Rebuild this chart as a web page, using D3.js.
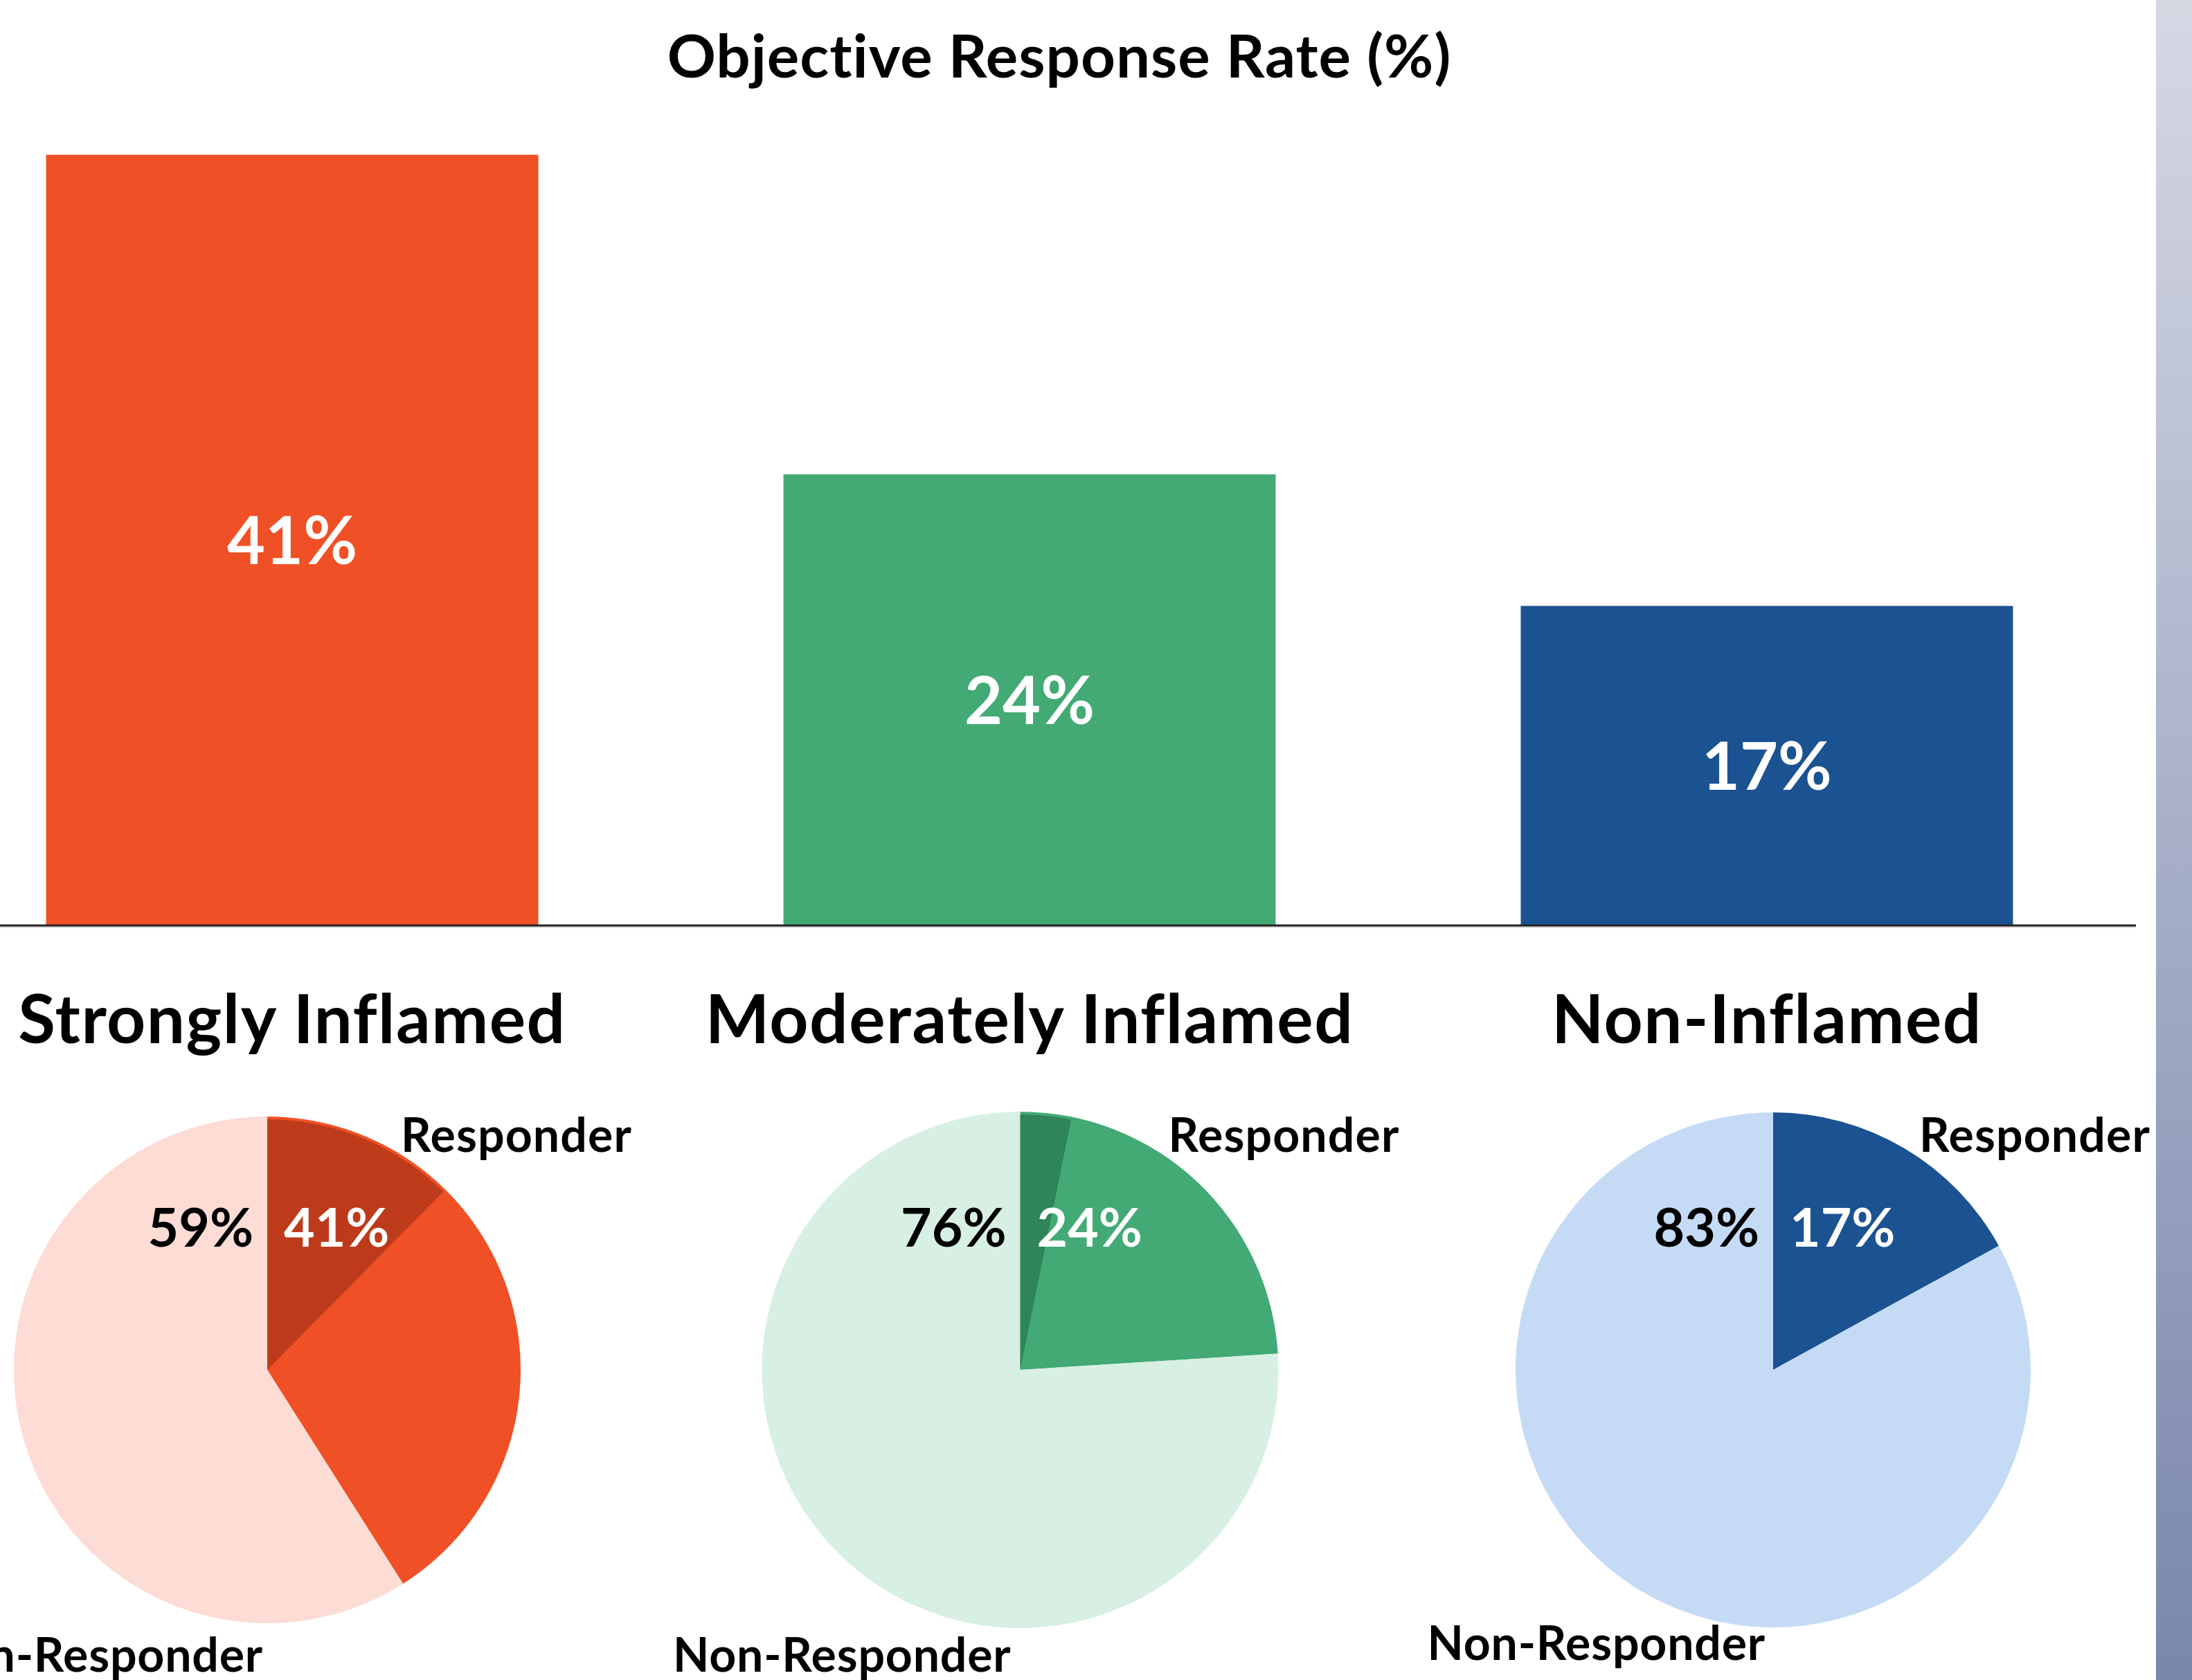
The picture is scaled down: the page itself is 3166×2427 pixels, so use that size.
<!DOCTYPE html>
<html><head><meta charset="utf-8">
<script src="https://cdn.jsdelivr.net/npm/d3@7"></script>
<style>
html,body{margin:0;padding:0;background:#fff;}
svg{display:block;}
text{font-family:Lato,"Open Sans",sans-serif;font-weight:700;}
</style>
</head><body>
<svg id="chart" width="3166" height="2427"></svg>
<script>
// ---------- data ----------
const categories = ["Strongly Inflamed", "Moderately Inflamed", "Non-Inflamed"];
const responseRate = [41, 24, 17];          // % responders (bars + pies)
const nonResponseRate = [59, 76, 83];       // % non-responders
const deepResponseRate = [12.4, 3.2, 0];    // darker wedge inside the responder slice
const sliceNames = ["Responder", "Non-Responder"];
const chartTitle = "Objective Response Rate (%)";
const barColors = ["#F05025", "#43AA75", "#1B5292"];
const lightColors = ["#FCDCD4", "#D8EFE3", "#C5DBF5"];
const darkColors = ["#BD3B1A", "#2F845A", "#153F73"];

// ---------- layout ----------
const W = 3166, H = 2427;
const baseY = 1337;
const pieCY = 1979;
const pieRadius = [366, 373, 372];
const respLabelDx = [193, 214, 211];
const nonLabelDx = [-6, -13, -11];
const nonLabelDy = [436, 436, 419];

const svg = d3.select("#chart");

// background gradient strip on the right
const defs = svg.append("defs");
const grad = defs.append("linearGradient").attr("id", "strip")
  .attr("x1", 0).attr("y1", 0).attr("x2", 0).attr("y2", 1);
grad.append("stop").attr("offset", "0%").attr("stop-color", "#D5D8E3");
grad.append("stop").attr("offset", "100%").attr("stop-color", "#7A87AD");
svg.append("rect").attr("x", 3114).attr("y", 0).attr("width", W - 3114).attr("height", H)
  .attr("fill", "url(#strip)");

// scales
const x = d3.scaleBand().domain(categories).range([0, 2974])
  .paddingInner(0.3324).paddingOuter(0.0625);
const y = d3.scaleLinear().domain([0, 45]).range([baseY, 115]);

// title
svg.append("text").attr("x", 1530).attr("y", 112).attr("text-anchor", "middle")
  .attr("font-size", 87).attr("letter-spacing", 1).attr("fill", "#000").text(chartTitle);

// bars
const bars = svg.append("g");
bars.selectAll("rect").data(categories).join("rect")
  .attr("x", d => x(d))
  .attr("y", (d, i) => y(responseRate[i]))
  .attr("width", x.bandwidth())
  .attr("height", (d, i) => y(0) - y(responseRate[i]))
  .attr("fill", (d, i) => barColors[i]);

bars.selectAll("text").data(categories).join("text")
  .attr("x", d => x(d) + x.bandwidth() / 2)
  .attr("y", (d, i) => (y(responseRate[i]) + y(0)) / 2 + 35)
  .attr("text-anchor", "middle").attr("font-size", 95).attr("fill", "#fff")
  .text((d, i) => responseRate[i] + "%");

// baseline
svg.append("line").attr("x1", 0).attr("x2", 3085).attr("y1", baseY + 2.5).attr("y2", baseY + 2.5)
  .attr("stroke", "#d6d6d6").attr("stroke-width", 2);
svg.append("line").attr("x1", 0).attr("x2", 3085).attr("y1", baseY).attr("y2", baseY)
  .attr("stroke", "#222").attr("stroke-width", 3);

// category titles
svg.append("g").selectAll("text").data(categories).join("text")
  .attr("x", d => x(d) + x.bandwidth() / 2)
  .attr("y", 1507)
  .attr("text-anchor", "middle").attr("font-size", 98).attr("letter-spacing", 1.5).attr("fill", "#000")
  .text(d => d);

// pies
const px = d3.scalePoint().domain(categories).range([386, 2561]);
const pie = d3.pie().sort(null).value(d => d).startAngle(0).endAngle(2 * Math.PI);

categories.forEach((cat, i) => {
  const g = svg.append("g").attr("transform", `translate(${px(cat)},${pieCY})`);
  const r = pieRadius[i];
  const arc = d3.arc().innerRadius(0).outerRadius(r);
  const slices = pie([responseRate[i], nonResponseRate[i]]);
  g.selectAll("path.slice").data(slices).join("path").attr("class", "slice")
    .attr("d", arc)
    .attr("fill", (d, j) => j === 0 ? barColors[i] : lightColors[i]);
  if (deepResponseRate[i] > 0) {
    const deepArc = d3.arc().innerRadius(0).outerRadius(r - 4)
      .startAngle(0).endAngle(2 * Math.PI * deepResponseRate[i] / 100);
    g.append("path").attr("d", deepArc()).attr("fill", darkColors[i]);
  }
  // percentage labels
  g.append("text").attr("x", -20).attr("y", -178).attr("text-anchor", "end")
    .attr("font-size", 77).attr("fill", "#000").text(nonResponseRate[i] + "%");
  g.append("text").attr("x", 24).attr("y", -178).attr("text-anchor", "start")
    .attr("font-size", 77).attr("fill", "#fff").text(responseRate[i] + "%");
  // slice names
  g.append("text").attr("x", respLabelDx[i]).attr("y", -315).attr("text-anchor", "start")
    .attr("font-size", 68).attr("letter-spacing", 1.1).attr("fill", "#000").text(sliceNames[0]);
  g.append("text").attr("x", nonLabelDx[i]).attr("y", nonLabelDy[i]).attr("text-anchor", "end")
    .attr("font-size", 68).attr("letter-spacing", 0.8).attr("fill", "#000").text(sliceNames[1]);
});
</script>
</body></html>
